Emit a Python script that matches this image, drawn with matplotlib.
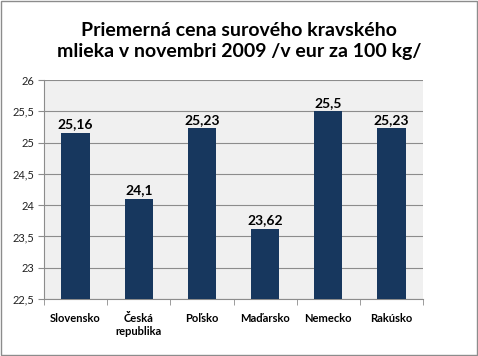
import matplotlib
matplotlib.use("Agg")
import matplotlib.pyplot as plt
from matplotlib.ticker import FuncFormatter, FixedLocator
from matplotlib.patches import Rectangle

categories = ["Slovensko", "Česká\nrepublika", "Poľsko", "Maďarsko", "Nemecko", "Rakúsko"]
values = [25.16, 24.1, 25.23, 23.62, 25.5, 25.23]
labels = ["25,16", "24,1", "25,23", "23,62", "25,5", "25,23"]
title = "Priemerná cena surového kravského\nmlieka v novembri 2009 /v eur za 100 kg/"

plt.rcParams['font.family'] = ['Lato', 'DejaVu Sans']

fig = plt.figure(figsize=(4.78, 3.56), dpi=100)
fig.patch.set_facecolor('white')
fig.patches.append(Rectangle((0.003, 0.003), 0.994, 0.994, transform=fig.transFigure,
                             fill=False, edgecolor='#8c8c8c', linewidth=1.0))
ax = fig.add_axes([0.092, 0.160, 0.793, 0.615])
ax.set_facecolor('#f0f0f0')

x = list(range(len(categories)))
bars = ax.bar(x, values, width=0.45, color='#17375e', zorder=3)
ax.set_ylim(22.5, 26)
ax.set_xlim(-0.5, len(categories) - 0.5)
ax.set_yticks([22.5 + 0.5 * i for i in range(8)])
ax.yaxis.set_major_formatter(FuncFormatter(lambda v, p: ('%g' % v).replace('.', ',')))
ax.grid(axis='y', color='#8c8c8c', linewidth=0.8, zorder=1)
ax.set_axisbelow(True)

for xi, v, lab in zip(x, values, labels):
    ax.text(xi, v + 0.04, lab, ha='center', va='bottom', fontsize=10, fontweight='bold', color='black')

ax.set_xticks(x)
ax.set_xticklabels(categories, fontsize=8, fontweight='bold')
ax.tick_params(axis='x', length=0, pad=10)
ax.xaxis.set_minor_locator(FixedLocator([i - 0.5 for i in range(len(categories) + 1)]))
ax.tick_params(axis='x', which='minor', length=4, color='#8c8c8c', direction='out')
ax.tick_params(axis='y', length=4, color='#8c8c8c', labelsize=8, pad=3, labelcolor='#222222')

for s in ['top', 'right']:
    ax.spines[s].set_visible(False)
ax.spines['left'].set_color('#8c8c8c')
ax.spines['bottom'].set_color('#8c8c8c')

fig.text(0.5, 0.885, title, ha='center', va='center', fontsize=14, fontweight='bold',
         linespacing=1.3)

fig.savefig('out.png', dpi=100)
